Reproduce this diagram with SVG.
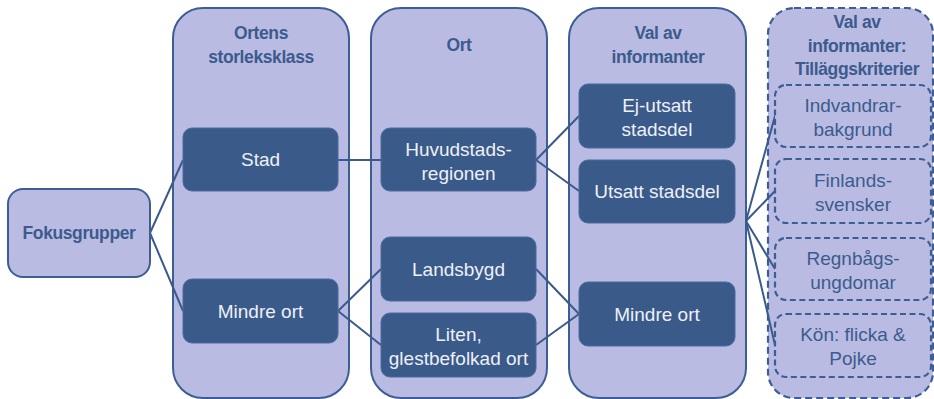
<svg xmlns="http://www.w3.org/2000/svg" width="934" height="399" viewBox="0 0 934 399">
<style>
.col{fill:#b9bbe3;stroke:#3d5e94;stroke-width:2}
.dcol{fill:#b9bbe3;stroke:#3d5e94;stroke-width:2.2;stroke-dasharray:7 4}
.box{fill:#3a5a89;stroke:#4a6aa0;stroke-width:1}
.dbox{fill:#b9bbe3;stroke:#3d5e94;stroke-width:2.2;stroke-dasharray:6 3.5}
.hd{font-family:"Liberation Sans",Arial,sans-serif;font-weight:bold;font-size:17.5px;fill:#3c5b8d;text-anchor:middle;letter-spacing:-0.4px}
.bt{font-family:"Liberation Sans",Arial,sans-serif;font-size:19px;fill:#eef0f8;text-anchor:middle}
.dt{font-family:"Liberation Sans",Arial,sans-serif;font-size:19px;fill:#3c5b8d;text-anchor:middle}
.ln{stroke:#3a5a8c;stroke-width:2;fill:none}
</style>
<g id="col-ortens">
<rect class="col" x="173" y="8" width="176" height="390" rx="30"/>
<text class="hd" x="261" y="39">Ortens</text>
<text class="hd" x="261" y="63">storleksklass</text>
</g>
<g id="col-ort">
<rect class="col" x="371" y="8" width="176" height="390" rx="30"/>
<text class="hd" x="459" y="51">Ort</text>
</g>
<g id="col-val">
<rect class="col" x="569" y="8" width="177" height="390" rx="30"/>
<text class="hd" x="658" y="39">Val av</text>
<text class="hd" x="658" y="63">informanter</text>
</g>
<g id="col-tillagg">
<rect class="dcol" x="768" y="8" width="165" height="390" rx="26"/>
<text class="hd" x="857" y="28">Val av</text>
<text class="hd" x="857" y="52">informanter:</text>
<text class="hd" x="857" y="75">Tilläggskriterier</text>
</g>
<g id="connectors">
<line class="ln" x1="150" y1="233" x2="183" y2="160"/>
<line class="ln" x1="150" y1="233" x2="183" y2="311"/>
<line class="ln" x1="338" y1="160" x2="381" y2="160"/>
<line class="ln" x1="338" y1="311" x2="381" y2="269"/>
<line class="ln" x1="338" y1="311" x2="381" y2="345"/>
<line class="ln" x1="536" y1="160" x2="579" y2="116"/>
<line class="ln" x1="536" y1="160" x2="579" y2="191"/>
<line class="ln" x1="536" y1="269" x2="579" y2="314"/>
<line class="ln" x1="536" y1="345" x2="579" y2="314"/>
<line class="ln" x1="746" y1="221" x2="775" y2="116"/>
<line class="ln" x1="746" y1="221" x2="775" y2="191"/>
<line class="ln" x1="746" y1="221" x2="775" y2="269"/>
<line class="ln" x1="746" y1="221" x2="775" y2="345"/>
</g>
<g id="fokusgrupper">
<rect x="8" y="189" width="142" height="88" rx="15" fill="#b9bbe3" stroke="#3d5e94" stroke-width="2"/>
<text class="hd" x="79" y="239">Fokusgrupper</text>
</g>
<g id="stad">
<rect class="box" x="183" y="128" width="155" height="63" rx="9"/>
<text class="bt" x="260.5" y="166">Stad</text>
</g>
<g id="mindre-ort-1">
<rect class="box" x="183" y="279" width="155" height="64" rx="9"/>
<text class="bt" x="260.5" y="318">Mindre ort</text>
</g>
<g id="huvudstads">
<rect class="box" x="381" y="128" width="155" height="63" rx="9"/>
<text class="bt" x="458.5" y="156">Huvudstads-</text>
<text class="bt" x="458.5" y="180">regionen</text>
</g>
<g id="landsbygd">
<rect class="box" x="381" y="237" width="155" height="64" rx="9"/>
<text class="bt" x="458.5" y="276">Landsbygd</text>
</g>
<g id="liten">
<rect class="box" x="381" y="313" width="155" height="64" rx="9"/>
<text class="bt" x="458.5" y="341">Liten,</text>
<text class="bt" x="458.5" y="365">glestbefolkad ort</text>
</g>
<g id="ej-utsatt">
<rect class="box" x="579" y="84" width="156" height="64" rx="9"/>
<text class="bt" x="657" y="112">Ej-utsatt</text>
<text class="bt" x="657" y="136">stadsdel</text>
</g>
<g id="utsatt">
<rect class="box" x="579" y="160" width="156" height="63" rx="9"/>
<text class="bt" x="657" y="198">Utsatt stadsdel</text>
</g>
<g id="mindre-ort-2">
<rect class="box" x="579" y="282" width="156" height="64" rx="9"/>
<text class="bt" x="657" y="321">Mindre ort</text>
</g>
<g id="indvandrar">
<rect class="dbox" x="775" y="85" width="156" height="62" rx="11"/>
<text class="dt" x="853" y="112">Indvandrar-</text>
<text class="dt" x="853" y="136">bakgrund</text>
</g>
<g id="finlands">
<rect class="dbox" x="775" y="159" width="156" height="64" rx="11"/>
<text class="dt" x="853" y="187">Finlands-</text>
<text class="dt" x="853" y="211">svensker</text>
</g>
<g id="regnbags">
<rect class="dbox" x="775" y="238" width="156" height="62" rx="11"/>
<text class="dt" x="853" y="265">Regnbågs-</text>
<text class="dt" x="853" y="289">ungdomar</text>
</g>
<g id="kon">
<rect class="dbox" x="775" y="314" width="156" height="63" rx="11"/>
<text class="dt" x="853" y="341">Kön: flicka &amp;</text>
<text class="dt" x="853" y="365">Pojke</text>
</g>
</svg>
